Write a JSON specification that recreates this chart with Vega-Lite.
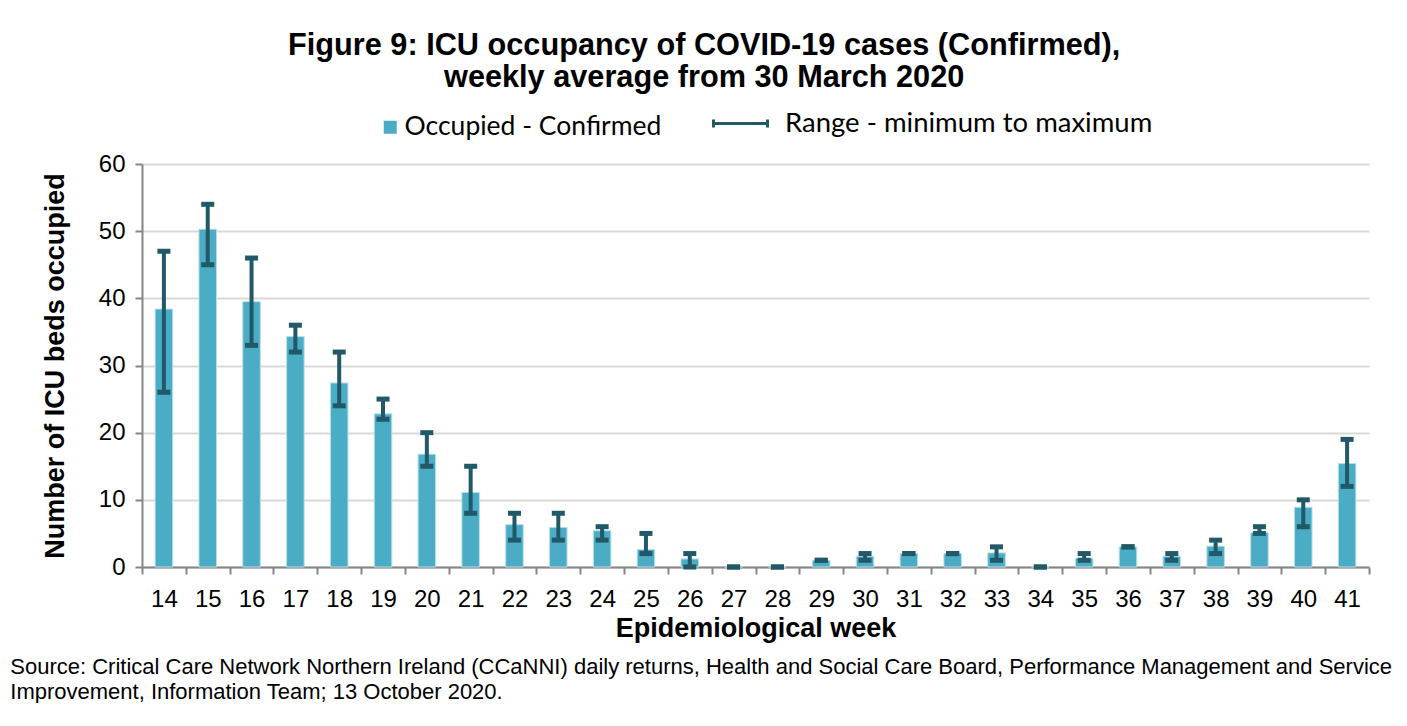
{
  "$schema": "https://vega.github.io/schema/vega-lite/v6.json",
  "padding": {"left": 10, "top": 30, "right": 0, "bottom": 0},
  "background": "white",
  "title": {
    "text": ["Figure 9: ICU occupancy of COVID-19 cases (Confirmed),", "weekly average from 30 March 2020"],
    "font": "Liberation Sans", "fontSize": 30.7, "fontWeight": "bold", "lineHeight": 32,
    "anchor": "middle", "color": "black", "offset": 1, "dx": 3
  },
  "data": {"values": [
    {"week": 14, "value": 38.4, "min": 26, "max": 47},
    {"week": 15, "value": 50.3, "min": 45, "max": 54},
    {"week": 16, "value": 39.5, "min": 33, "max": 46},
    {"week": 17, "value": 34.3, "min": 32, "max": 36},
    {"week": 18, "value": 27.4, "min": 24, "max": 32},
    {"week": 19, "value": 22.8, "min": 22, "max": 25},
    {"week": 20, "value": 16.8, "min": 15, "max": 20},
    {"week": 21, "value": 11.1, "min": 8, "max": 15},
    {"week": 22, "value": 6.3, "min": 4, "max": 8},
    {"week": 23, "value": 5.9, "min": 4, "max": 8},
    {"week": 24, "value": 5.4, "min": 4, "max": 6},
    {"week": 25, "value": 2.6, "min": 2, "max": 5},
    {"week": 26, "value": 1.2, "min": 0, "max": 2},
    {"week": 27, "value": 0, "min": 0, "max": 0},
    {"week": 28, "value": 0, "min": 0, "max": 0},
    {"week": 29, "value": 1, "min": 1, "max": 1},
    {"week": 30, "value": 1.6, "min": 1, "max": 2},
    {"week": 31, "value": 2, "min": 2, "max": 2},
    {"week": 32, "value": 2, "min": 2, "max": 2},
    {"week": 33, "value": 2.1, "min": 1, "max": 3},
    {"week": 34, "value": 0, "min": 0, "max": 0},
    {"week": 35, "value": 1.3, "min": 1, "max": 2},
    {"week": 36, "value": 3, "min": 3, "max": 3},
    {"week": 37, "value": 1.6, "min": 1, "max": 2},
    {"week": 38, "value": 3.1, "min": 2, "max": 4},
    {"week": 39, "value": 5.1, "min": 5, "max": 6},
    {"week": 40, "value": 8.9, "min": 6, "max": 10},
    {"week": 41, "value": 15.4, "min": 12, "max": 19}
  ]},
  "vconcat": [
    {
      "width": 1227,
      "height": 403,
      "title": {
        "text": ["Source: Critical Care Network Northern Ireland (CCaNNI) daily returns, Health and Social Care Board, Performance Management and Service", "Improvement, Information Team; 13 October 2020."],
        "orient": "bottom", "anchor": "start", "frame": "bounds", "dx": -31,
        "font": "Liberation Sans", "fontSize": 22, "fontWeight": "normal", "lineHeight": 25,
        "color": "black", "offset": 16
      },
      "encoding": {
        "x": {
          "field": "week", "type": "ordinal",
          "scale": {"paddingInner": 0, "paddingOuter": 0},
          "axis": {
            "title": "Epidemiological week", "labelAngle": 0, "tickBand": "extent", "grid": false,
            "domainColor": "#868686", "domainWidth": 2, "tickColor": "#868686", "tickWidth": 2, "tickSize": 7,
            "labelFont": "Liberation Sans", "labelFontSize": 24, "labelColor": "black", "labelPadding": 13,
            "titleFont": "Liberation Sans", "titleFontSize": 27, "titleFontWeight": "bold", "titleColor": "black", "titlePadding": 4
          }
        }
      },
      "layer": [
        {
          "mark": {"type": "bar", "width": {"band": 0.4}, "stroke": "#b7dfea", "strokeWidth": 1},
          "encoding": {
            "y": {
              "field": "value", "type": "quantitative", "title": "Number of ICU beds occupied",
              "scale": {"domain": [0, 60]},
              "axis": {
                "values": [0, 10, 20, 30, 40, 50, 60], "grid": true, "gridColor": "#d9d9d9", "gridWidth": 2,
                "domainColor": "#868686", "domainWidth": 2, "tickColor": "#868686", "tickWidth": 2, "tickSize": 7,
                "labelFont": "Liberation Sans", "labelFontSize": 24, "labelColor": "black", "labelPadding": 10,
                "titleFont": "Liberation Sans", "titleFontSize": 27, "titleFontWeight": "bold", "titleColor": "black", "titlePadding": 29
              }
            },
            "fill": {
              "datum": "Occupied - Confirmed", "type": "nominal",
              "scale": {"range": ["#4BACC6"]},
              "legend": {
                "orient": "none", "legendX": 235, "legendY": -50, "title": null,
                "symbolType": "square", "symbolSize": 169, "symbolStrokeWidth": 0,
                "labelFont": "Lato", "labelFontSize": 26.5, "labelColor": "black", "labelOffset": 1, "labelLimit": 400
              }
            }
          }
        },
        {
          "mark": {"type": "rule", "strokeWidth": 4},
          "encoding": {
            "y": {"field": "min", "type": "quantitative", "title": "Number of ICU beds occupied"},
            "y2": {"field": "max"},
            "stroke": {
              "datum": "Range - minimum to maximum", "type": "nominal",
              "scale": {"range": ["#215968"]},
              "legend": {
                "orient": "none", "legendX": 570, "legendY": -69, "title": null,
                "symbolType": "M-1,0H1M-1,-0.15V0.15M1,-0.15V0.15", "symbolSize": 2916,
                "symbolStrokeWidth": 3, "symbolStrokeColor": "#215968", "symbolFillColor": "transparent",
                "labelFont": "Lato", "labelFontSize": 27.5, "labelColor": "black", "labelOffset": 16, "labelLimit": 500
              }
            }
          }
        },
        {
          "mark": {"type": "tick", "color": "#215968", "thickness": 5, "size": 13, "opacity": 1},
          "encoding": {"y": {"field": "min", "type": "quantitative", "title": "Number of ICU beds occupied"}}
        },
        {
          "mark": {"type": "tick", "color": "#215968", "thickness": 5, "size": 13, "opacity": 1},
          "encoding": {"y": {"field": "max", "type": "quantitative", "title": "Number of ICU beds occupied"}}
        }
      ]
    }
  ],
  "config": {"view": {"stroke": null}}
}
